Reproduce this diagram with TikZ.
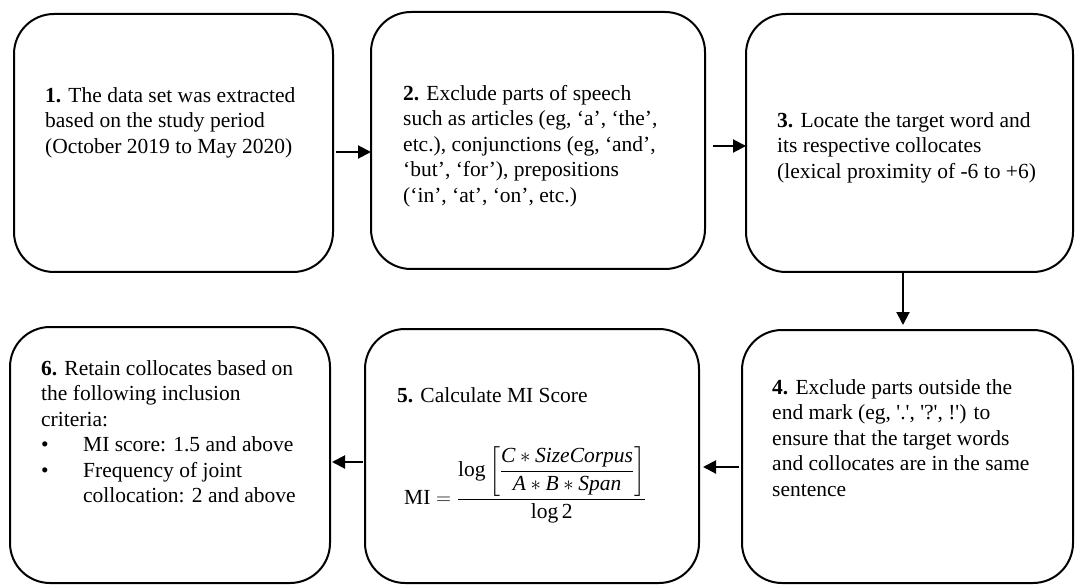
\documentclass[tikz,border=0pt]{standalone}
\usepackage{amsmath}
\usepackage{fontspec}
\setmainfont{Liberation Serif}
\newfontfamily\plainq{Liberation Serif}
\usetikzlibrary{arrows.meta}
\begin{document}
\begin{tikzpicture}[x=1pt,y=-1pt,
  box/.style={draw, line width=2pt, rounded corners=40pt, inner sep=0pt, outer sep=0pt},
  txt/.style={anchor=north west, align=left, inner sep=0pt, font=\fontsize{21.5}{25.5}\selectfont},
  arr/.style={line width=2pt, -{Triangle[length=13pt,width=13pt]}}]
\useasboundingbox (0,0) rectangle (1076,585);
% boxes
\node[box, minimum width=319pt, minimum height=258pt] (b1) at (173.5,143) {};
\node[box, minimum width=334pt, minimum height=257pt] (b2) at (538,140.5) {};
\node[box, minimum width=327pt, minimum height=258pt] (b3) at (909.5,143) {};
\node[box, minimum width=331pt, minimum height=253pt] (b4) at (907.5,456.5) {};
\node[box, minimum width=334pt, minimum height=254pt] (b5) at (532,456) {};
\node[box, minimum width=320pt, minimum height=256pt] (b6) at (170,455) {};
% texts
\node[txt] (t1) at (45,87) {\textbf{1.} The data set was extracted\\based on the study period\\(October 2019 to May 2020)};
\node[txt] (t2) at (403,85) {\textbf{2.} Exclude parts of speech\\such as articles (eg, ‘a’, ‘the’,\\etc.), conjunctions (eg, ‘and’,\\‘but’, ‘for’), prepositions\\(‘in’, ‘at’, ‘on’, etc.)};
\node[txt] (t3) at (777,112) {\textbf{3.} Locate the target word and\\its respective collocates\\(lexical proximity of -6 to +6)};
\node[txt] (t4) at (772,379) {\textbf{4.} Exclude parts outside the\\end mark (eg, {\plainq '.', '?', !'}) to\\ensure that the target words\\and collocates are in the same\\sentence};
\node[txt] (t5) at (397,387) {\textbf{5.} Calculate MI Score};
\node[anchor=west, inner sep=0pt, font=\fontsize{21.5}{25.5}\selectfont] (f5) at (404,485)
  {$\mathrm{MI} = \dfrac{\log\left[\text{\fontsize{21.5}{23}\selectfont$\dfrac{\mathit{C} \ast \mathit{SizeCorpus}}{\mathit{A} \ast \mathit{B} \ast \mathit{Span}}$}\right]}{\log\text{2}}$};
\node[txt] (t6) at (41,360) {\textbf{6.} Retain collocates based on\\the following inclusion\\criteria:\\\makebox[42pt][l]{•}MI score: 1.5 and above\\\makebox[42pt][l]{•}Frequency of joint\\\makebox[42pt][l]{}collocation: 2 and above};
% arrows
\draw[arr] ([yshift=-9pt,xshift=3pt]b1.east) -- ([yshift=-11.5pt]b2.west);
\draw[arr] ([yshift=-5.5pt,xshift=8pt]b2.east) -- ([yshift=-3pt]b3.west);
\draw[arr, shorten >=5pt] ([xshift=-6.5pt]b3.south) -- ([xshift=-4.5pt]b4.north);
\draw[arr] ([yshift=-10.5pt,xshift=-3pt]b4.west) -- ([yshift=-11pt,xshift=4pt]b5.east);
\draw[arr] ([yshift=-6pt,xshift=-2pt]b5.west) -- ([yshift=-7pt,xshift=2pt]b6.east);
\end{tikzpicture}
\end{document}
